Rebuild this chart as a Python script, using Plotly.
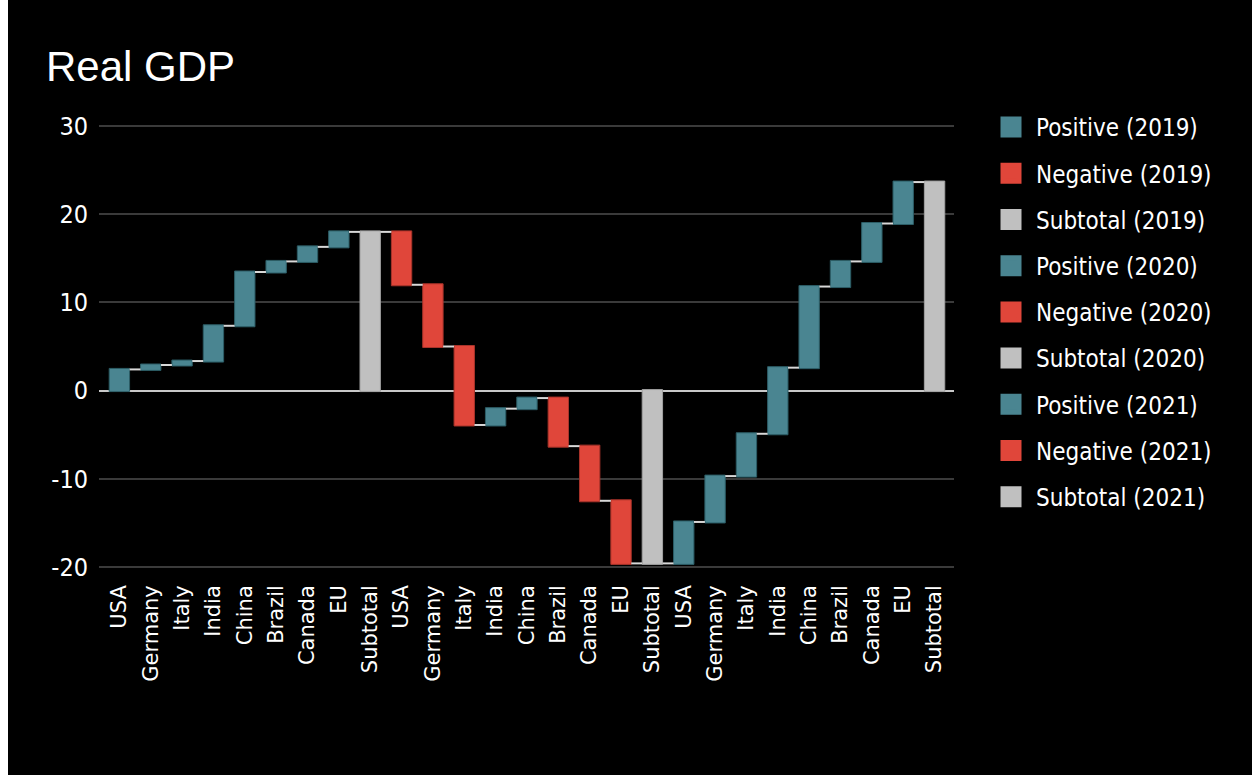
import plotly.graph_objects as go

# ---- data ----
countries = ["USA", "Germany", "Italy", "India", "China", "Brazil", "Canada", "EU"]
years = ["2019", "2020", "2021"]
changes_2019 = [2.4, 0.5, 0.45, 4.0, 6.1, 1.2, 1.65, 1.7]
changes_2020 = [-6.0, -7.0, -8.9, 1.85, 1.2, -5.45, -6.2, -7.1]
changes_2021 = [4.7, 5.2, 4.8, 7.5, 9.2, 2.85, 4.3, 4.7]
subtotal_label = "Subtotal"
y_ticks = [-20, -10, 0, 10, 20, 30]
y_ticktext = ["-20", "-10", "0", "10", "20", "30"]

TEAL = "#4a8591"
RED = "#e0463a"
GRAY = "#c0c0c0"

# build waterfall sequence
labels, values, measures = [], [], []
for ch in (changes_2019, changes_2020, changes_2021):
    for c, v in zip(countries, ch):
        labels.append(c)
        values.append(v)
        measures.append("relative")
    labels.append(subtotal_label)
    values.append(0)
    measures.append("total")
xpos = list(range(len(labels)))

fig = go.Figure()
fig.add_trace(go.Waterfall(
    x=xpos, y=values, measure=measures,
    showlegend=False,
    textinfo="none",
    increasing=dict(marker=dict(color=TEAL, line=dict(color="#2c5d66", width=1))),
    decreasing=dict(marker=dict(color=RED, line=dict(color="#a8332a", width=1))),
    totals=dict(marker=dict(color=GRAY, line=dict(color="#a0a0a0", width=1))),
    connector=dict(mode="between", line=dict(color="#d8d8d8", width=2)),
))

# legend entries
for yr in years:
    for nm, col in (("Positive", TEAL), ("Negative", RED), ("Subtotal", GRAY)):
        name = f"{nm} ({yr})"
        fig.add_trace(go.Scatter(
            x=[None], y=[None], mode="markers", name=name, legendgroup=name,
            marker=dict(symbol="square", size=16, color=col, line=dict(color=col, width=5)),
        ))

W, H = 1252, 775
L, R, T, B = 99, 298, 123, 205
pw, ph = W - L - R, H - T - B
fig.add_shape(type="rect", xref="paper", yref="paper", layer="below",
              x0=(8 - L) / pw, x1=(W - L) / pw, y0=-(B) / ph - 0.01, y1=(H - T - 8) / ph,
              fillcolor="black", line=dict(width=0))

fig.update_layout(
    width=W, height=H,
    margin=dict(l=L, r=R, t=T, b=B),
    paper_bgcolor="white", plot_bgcolor="black",
    waterfallgap=0.35,
    title=dict(text="Real GDP", x=46 / W, xanchor="left", xref="container",
               y=1 - 66 / H, yanchor="middle", yref="container",
               font=dict(family="Liberation Sans, Arial", size=42, color="white")),
    legend=dict(x=986 / W, xref="container", xanchor="left",
                y=1 - 105 / H, yref="container", yanchor="top",
                traceorder="grouped", tracegroupgap=12, maxheight=700,
                itemwidth=40,
                font=dict(family="DejaVu Sans Condensed, DejaVu Sans", size=24, color="white"),
                bgcolor="rgba(0,0,0,0)"),
    xaxis=dict(tickmode="array", tickvals=xpos, ticktext=labels, tickangle=-90,
               range=[-0.65, 26.62], showgrid=False, zeroline=False, showline=False,
               ticklabelstandoff=10,
               tickfont=dict(family="DejaVu Sans", size=21, color="white")),
    yaxis=dict(tickmode="array", tickvals=y_ticks, ticktext=y_ticktext, range=[-20.35, 30.35],
               showgrid=True, gridcolor="#3a3a3a", gridwidth=1.5,
               zeroline=True, zerolinecolor="#c8c8c8", zerolinewidth=2,
               showline=False, ticklabelstandoff=10,
               tickfont=dict(family="DejaVu Sans Condensed, DejaVu Sans", size=25, color="white")),
)

fig.write_html("out.html")
